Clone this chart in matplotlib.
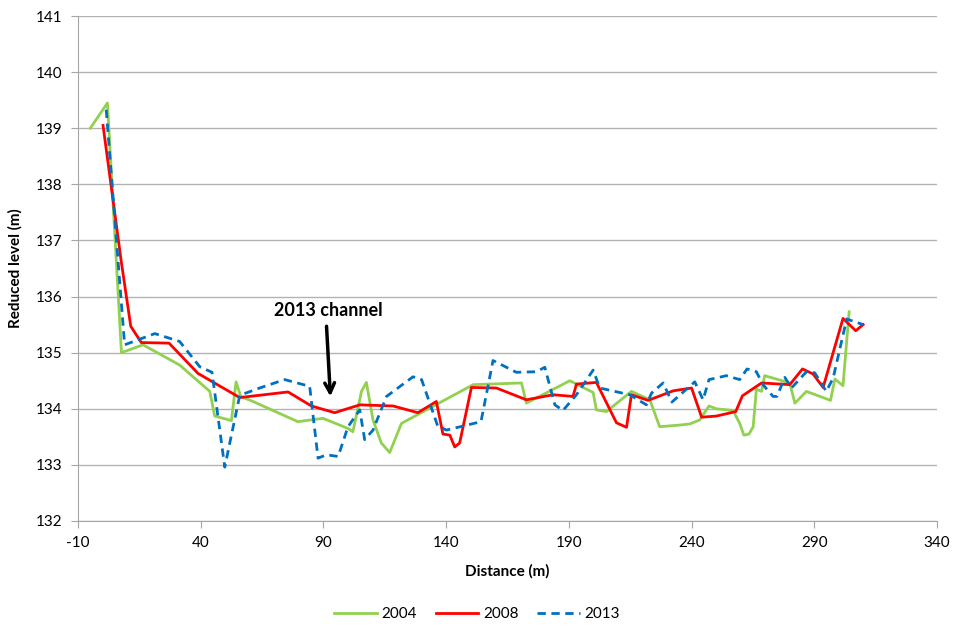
import matplotlib
matplotlib.use("Agg")
import matplotlib.pyplot as plt

plt.rcParams['font.family'] = ['Lato', 'DejaVu Sans']
plt.rcParams['axes.unicode_minus'] = False

# 2004 survey
dist_2004 = [-5, 2, 7.7, 16.5, 31.4, 43.7, 45.7, 52.5, 54.4, 56.3, 61.3, 79.6, 89.8,
             100, 102, 105.5, 107.5, 110.2, 113.6, 117, 121.8, 151, 170.7, 172.7,
             190.4, 199.9, 201.2, 205.3, 215.5, 223, 227, 235.2, 239.3, 243.3, 247.1,
             250.1, 256.9, 259.6, 261.3, 263.4, 265.1, 266.4, 268.5, 269.8, 280,
             282.1, 286.8, 296.6, 298.4, 301.7, 304.2]
rl_2004 = [139.0, 139.45, 135.0, 135.14, 134.78, 134.31, 133.87, 133.79, 134.48, 134.22,
           134.13, 133.77, 133.83, 133.65, 133.59, 134.31, 134.47, 133.8, 133.39, 133.22,
           133.74, 134.43, 134.46, 134.1, 134.5, 134.29, 133.98, 133.95, 134.31, 134.16,
           133.68, 133.71, 133.73, 133.8, 134.05, 134.0, 133.97, 133.74, 133.53, 133.55,
           133.68, 134.35, 134.31, 134.59, 134.46, 134.1, 134.31, 134.15, 134.53, 134.41,
           135.73]

# 2008 survey
dist_2008 = [0.2, 7.7, 11.5, 15.8, 27.1, 38.9, 55.9, 75.6, 85.1, 94.6, 104.8, 118.4,
             128.5, 136, 138.7, 141.5, 143.5, 145.5, 150.3, 160.5, 172.7, 183.6, 191.7,
             193.1, 201.2, 209.4, 213.5, 215.5, 222.3, 232.5, 240, 244.1, 250.1, 258,
             260.7, 268.5, 280, 285.2, 289.5, 293.6, 301.7, 306.9, 309.9]
rl_2008 = [139.05, 136.6, 135.47, 135.18, 135.17, 134.63, 134.2, 134.3, 134.05, 133.93,
           134.07, 134.05, 133.93, 134.13, 133.55, 133.53, 133.32, 133.39, 134.38, 134.37,
           134.16, 134.25, 134.22, 134.44, 134.47, 133.75, 133.67, 134.25, 134.15, 134.32,
           134.37, 133.85, 133.87, 133.95, 134.23, 134.46, 134.43, 134.71, 134.62, 134.38,
           135.61, 135.39, 135.5]

# 2013 survey
dist_2013 = [1.5, 9.0, 21.3, 31.4, 39.6, 44.6, 49.8, 55.9, 64, 74.2, 84.4, 87.8, 91.2,
             96, 100, 104.8, 106.8, 110.2, 115.7, 126.5, 130, 136.5, 140.1, 154.2, 159.1,
             168.6, 176.8, 180.2, 184.3, 187.6, 193.1, 199.9, 202.6, 214.8, 221.6, 223.7,
             228.4, 232, 241.3, 244.7, 247.1, 254.2, 259.6, 262.6, 266.4, 269.1, 273.2,
             274.8, 278, 280.7, 286.8, 290.2, 294.9, 297.7, 303.2, 309.9]
rl_2013 = [139.33, 135.14, 135.34, 135.2, 134.75, 134.65, 132.96, 134.24, 134.37, 134.52,
           134.4, 133.12, 133.18, 133.15, 133.68, 133.98, 133.45, 133.62, 134.22, 134.57,
           134.52, 133.7, 133.62, 133.77, 134.86, 134.65, 134.66, 134.74, 134.07, 133.97,
           134.25, 134.69, 134.37, 134.25, 134.07, 134.28, 134.46, 134.12, 134.48, 134.16,
           134.52, 134.59, 134.52, 134.71, 134.66, 134.43, 134.22, 134.22, 134.56, 134.37,
           134.66, 134.64, 134.31, 134.55, 135.6, 135.5]

x_ticks = [-10, 40, 90, 140, 190, 240, 290, 340]
y_ticks = [132, 133, 134, 135, 136, 137, 138, 139, 140, 141]

fig = plt.figure(figsize=(9.54, 6.26), dpi=100)
ax = fig.add_axes([78 / 954, 105 / 626, 859 / 954, 505 / 626])

ax.plot(dist_2004, rl_2004, color='#92D050', lw=2.0, label='2004')
ax.plot(dist_2008, rl_2008, color='#FF0000', lw=2.0, label='2008')
ax.plot(dist_2013, rl_2013, color='#0070C0', lw=2.0, ls=(0, (3, 2)), label='2013')

ax.set_xlim(-10, 340)
ax.set_ylim(132, 141)
ax.set_xticks(x_ticks)
ax.set_yticks(y_ticks)
ax.yaxis.grid(True, color='#b3b3b3', lw=1)
ax.set_axisbelow(True)
for s in ['top', 'right']:
    ax.spines[s].set_visible(False)
for s in ['left', 'bottom']:
    ax.spines[s].set_color('#a6a6a6')
ax.tick_params(direction='out', length=5, color='#a6a6a6', labelsize=11, pad=6)

ax.set_xlabel('Distance (m)', fontsize=11, fontweight='bold', labelpad=10)
ax.set_ylabel('Reduced level (m)', fontsize=11, fontweight='bold', labelpad=10)

# channel annotation
ax.annotate('', xy=(92.9, 134.17), xytext=(91.2, 135.52),
            arrowprops=dict(arrowstyle='->,head_length=0.7,head_width=0.35', color='black', lw=2.5))
ax.text(91.8, 135.75, '2013 channel', fontsize=13, fontweight='bold',
        ha='center', va='center')

fig.legend(loc='center', bbox_to_anchor=(0.5, 0.019), ncol=3, frameon=False,
           fontsize=11, handlelength=2.8, columnspacing=1.2, handletextpad=0.3)

fig.savefig('out.png', dpi=100)
